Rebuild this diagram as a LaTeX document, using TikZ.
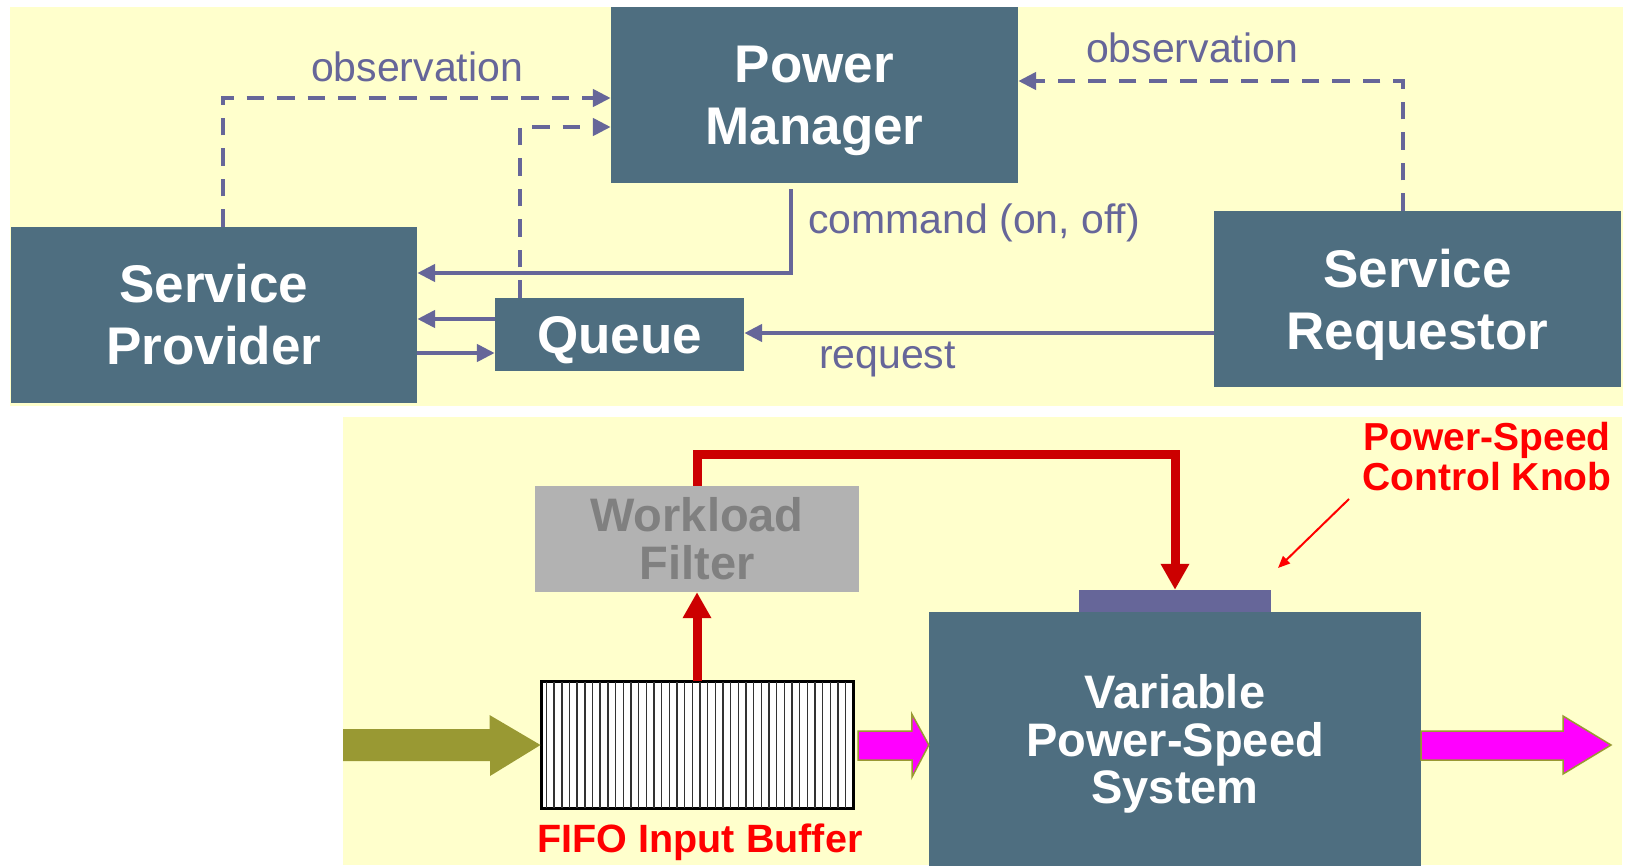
\documentclass[tikz,border=0pt]{standalone}
\usepackage{fontspec}
\usepackage{amsmath}
\setmainfont{Liberation Sans}
\usetikzlibrary{arrows.meta}

\definecolor{panel}{RGB}{255,255,204}
\definecolor{slate}{RGB}{78,110,128}
\definecolor{lilac}{RGB}{102,102,153}
\definecolor{darkred}{RGB}{204,0,0}
\definecolor{brightred}{RGB}{255,0,0}
\definecolor{olivegreen}{RGB}{153,153,51}
\definecolor{magentafill}{RGB}{255,0,255}
\definecolor{filtergray}{RGB}{178,178,178}
\definecolor{filtertext}{RGB}{128,128,128}

\begin{document}
\begin{tikzpicture}[x=1pt,y=-1pt,
  block/.style={fill=slate, text=white, align=center, inner sep=0pt,
    font=\fontsize{53}{62}\selectfont\bfseries},
  bigblock/.style={block, minimum width=407pt, minimum height=176pt},
  flowlabel/.style={text=lilac, inner sep=0pt, anchor=base,
    font=\fontsize{41}{48}\selectfont},
  link/.style={draw=lilac, line width=4.8pt,
    -{Triangle[length=18pt,width=17pt]}},
  obslink/.style={link, dash pattern=on 17.5pt off 13pt},
  feed/.style={draw=darkred, line width=9pt,
    -{Triangle[length=26pt,width=27pt]}},
  redtext/.style={text=brightred, inner sep=0pt, align=center,
    font=\fontsize{39}{40}\selectfont\bfseries},
  bigpink/.style={fill=magentafill, draw=olivegreen, line width=1.5pt},
]
% page and the two panels
\fill[white] (0,0) rectangle (1633,865);
\useasboundingbox (0,0) rectangle (1633,865);
\fill[panel] (10,7) rectangle (1623,406);
\fill[panel] (343,417) rectangle (1622,865);

% ---------- dynamic power management model ----------
\node[bigblock] (pm) at (814.5,95) {Power\\\smash[b]{Manager}};
\node[bigblock, minimum width=406.5pt] (sp) at (213.75,315) {Service\\Provider};
\node[block, minimum width=249pt, minimum height=73pt] (q) at (619.5,334.5) {\smash[b]{Queue}};
\node[bigblock] (sr) at (1417.5,299) {Service\\\smash[b]{Requestor}};

\draw[obslink] (223,0 |- sp.north) |- (pm.west |- 0,98);
\draw[obslink] (520,0 |- q.north) |- (pm.west |- 0,127);
\draw[obslink] (1403,0 |- sr.north) |- (pm.east |- 0,81);

\coordinate (cmd) at (791,189);
\draw[link] (cmd) |- (sp.east |- 0,273);
\draw[link] (q.west |- 0,319) -- (sp.east |- 0,319);
\draw[link] (sp.east |- 0,353) -- (q.west |- 0,353);
\draw[link] (sr.west |- 0,333) -- (q.east |- 0,333);

\node[flowlabel] (obsleft) at (417,81) {observation};
\node[flowlabel] (obsright) at (1192,62) {observation};
\node[flowlabel] (cmdlabel) at (974,233) {command (on, off)};
\node[flowlabel] (reqlabel) at (887.5,368) {request};

% ---------- variable power-speed system ----------
\node[fill=filtergray, text=filtertext, align=center, inner sep=0pt,
  minimum width=324pt, minimum height=106pt,
  font=\fontsize{47}{48}\selectfont\bfseries] (wf) at (697,539) {Workload\\Filter};

\node[draw=black, line width=2pt, fill=white, inner sep=0pt,
  minimum width=311pt, minimum height=126pt] (fifo) at (697,745) {};
\foreach \k in {0,...,39}
  \draw[black!80, line width=1.4pt]
    ([xshift={6pt+7.67pt*\k}]fifo.north west) -- ([xshift={6pt+7.67pt*\k}]fifo.south west);
\draw[black, line width=2pt] (fifo.north west) rectangle (fifo.south east);

\node[fill=lilac, inner sep=0pt, minimum width=192pt, minimum height=22pt] (knob) at (1175,601) {};
\node[fill=slate, text=white, align=center, inner sep=0pt,
  minimum width=492pt, minimum height=254pt,
  font=\fontsize{47}{47.5}\selectfont\bfseries] (vps) at (1175,739)
  {Variable\\Power-Speed\\\smash[b]{System}};

% workload path
\draw[feed] (fifo.north) -- (wf.south);
\draw[feed] (wf.north) |- (knob.north |- 0,454) -- (knob.north);

% incoming work
\fill[olivegreen] (fifo.west) -- ++(-51,-30) -- ++(0,14) -- (343,729)
  -- (343,761) -- (490,761) -- (490,776) -- cycle;
% buffer to system
\coordinate (m1) at (vps.west |- fifo.west);
\filldraw[bigpink] (m1) -- ++(-17,-31) -- ++(0,17) -- (858,731)
  -- (858,760) -- ++(54,0) -- ++(0,17) -- cycle;
% system output
\coordinate (sink) at (1611,745);
\filldraw[bigpink] (vps.east |- 0,731) -- (1563,731) -- (1563,716) -- (sink)
  -- (1563,774) -- (1563,760) -- (vps.east |- 0,760) -- cycle;

% labels
\node[redtext, anchor=north] (knoblabel) at (1487,422) {Power-Speed\\Control Knob};
\coordinate (pointerstart) at (1349,499);
\coordinate (pointerend) at (1278,568);
\draw[brightred, line width=2pt, -{Triangle[length=12pt,width=10pt]}]
  (pointerstart) -- (pointerend);
\node[redtext, anchor=base, font=\fontsize{39.5}{40}\selectfont\bfseries]
  (fifolabel) at (700,852) {FIFO Input Buffer};
\end{tikzpicture}
\end{document}
